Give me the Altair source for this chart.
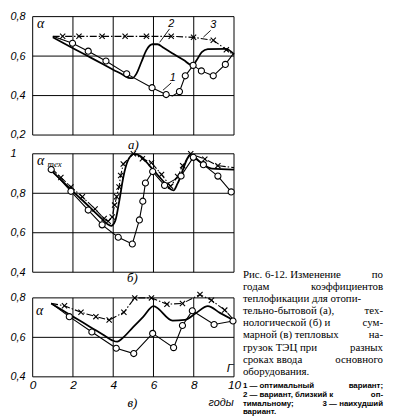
import altair as alt
import pandas as pd

# ---------------- panel а) ----------------
A1_YEAR = [1.0, 1.98, 2.76, 3.64, 4.67, 5.93, 6.63, 6.95, 7.29, 7.58, 7.97, 8.38, 8.97, 9.57, 9.95]
A1_VAL = [0.70, 0.665, 0.625, 0.575, 0.51, 0.44, 0.405, 0.398, 0.42, 0.50, 0.553, 0.525, 0.50, 0.558, 0.61]
A1_MARK = [0, 1, 1, 1, 1, 1, 1, 0, 1, 1, 1, 1, 1, 1, 0]
A2_YEAR = [1.0, 2.0, 3.0, 4.0, 4.5, 4.75, 4.95, 5.15, 5.4, 5.65, 5.95, 6.2, 6.5, 7.0, 7.5, 7.94,
           8.15, 8.4, 8.7, 9.6, 10.0]
A2_VAL = [0.695, 0.640, 0.586, 0.531, 0.504, 0.49, 0.488, 0.51, 0.57, 0.63, 0.66, 0.66, 0.642, 0.611,
          0.580, 0.553, 0.58, 0.62, 0.635, 0.637, 0.61]
A3_YEAR = [1.0, 1.49, 2.3, 3.45, 4.59, 5.65, 6.88, 7.99, 8.97, 9.62, 10.0]
A3_VAL = [0.70, 0.70, 0.70, 0.70, 0.70, 0.70, 0.70, 0.695, 0.68, 0.632, 0.605]
A3_MARK = [0, 1, 1, 1, 1, 1, 1, 1, 1, 1, 0]

A_NUM_TEXT = ["1", "2", "3"]
A_NUM_YEAR = [6.96, 6.88, 8.97]
A_NUM_VAL = [0.488, 0.763, 0.755]
A_LEAD_YEAR = [6.88, 6.80, 8.84]
A_LEAD_VAL = [0.464, 0.738, 0.730]
A_LEAD_YEAR2 = [6.47, 6.31, 8.48]
A_LEAD_VAL2 = [0.427, 0.670, 0.696]

# ---------------- panel б) ----------------
B1_YEAR = [0.92, 1.9, 2.76, 3.45, 4.25, 4.95, 5.3, 5.47, 5.6, 5.96, 6.55, 7.37, 7.98, 8.48, 9.2, 9.86]
B1_VAL = [0.92, 0.81, 0.715, 0.64, 0.577, 0.543, 0.665, 0.76, 0.852, 0.91, 0.84, 0.888, 0.982, 0.945, 0.887, 0.807]
B1_MARK = [1, 1, 1, 1, 1, 1, 1, 1, 1, 1, 1, 1, 1, 1, 1, 1]
B2_YEAR = [0.92, 1.5, 2.0, 2.5, 3.0, 3.4, 3.7, 3.9, 4.1, 4.3, 4.5, 4.75, 5.05, 5.4, 5.8, 6.2, 6.6,
           6.85, 7.0, 7.2, 7.85, 8.3, 8.9, 10.0]
B2_VAL = [0.915, 0.859, 0.810, 0.762, 0.713, 0.674, 0.645, 0.635, 0.66, 0.76, 0.88, 0.97, 1.0, 0.985,
          0.940, 0.894, 0.848, 0.82, 0.815, 0.85, 0.995, 0.96, 0.925, 0.92]
B3_YEAR = [0.95, 1.4, 1.9, 2.47, 3.1, 3.55, 3.75, 3.95, 4.07, 4.17, 4.29, 4.37, 4.5, 5.0,
           5.45, 5.9, 6.4, 6.85, 7.2, 7.45, 7.85, 8.55, 9.2, 10.0]
B3_VAL = [0.925, 0.88, 0.832, 0.782, 0.72, 0.672, 0.658, 0.68, 0.74, 0.782, 0.832, 0.89, 0.948, 1.0,
          0.975, 0.955, 0.895, 0.835, 0.885, 0.94, 1.0, 0.973, 0.94, 0.93]
B3_MARK = [0, 1, 1, 1, 1, 1, 1, 1, 1, 1, 1, 1, 1, 1, 1, 1, 1, 1, 1, 1, 1, 1, 1, 0]

# ---------------- panel в) ----------------
C1_YEAR = [0.92, 1.82, 2.94, 4.15, 5.02, 5.96, 7.0, 7.44, 7.93, 9.01, 9.95]
C1_VAL = [0.772, 0.705, 0.627, 0.545, 0.518, 0.62, 0.548, 0.66, 0.735, 0.665, 0.683]
C1_MARK = [0, 1, 1, 1, 1, 1, 1, 1, 1, 1, 1]
C2_YEAR = [0.92, 1.5, 2.0, 2.5, 3.0, 3.5, 3.95, 4.2, 4.45, 5.0, 5.5, 6.0, 6.95, 7.55, 8.1, 8.7, 9.3, 10.0]
C2_VAL = [0.772, 0.736, 0.705, 0.675, 0.644, 0.613, 0.585, 0.578, 0.595, 0.653, 0.705, 0.758, 0.685,
          0.688, 0.722, 0.758, 0.724, 0.685]
C3_YEAR = [0.92, 1.58, 2.4, 3.14, 3.8, 4.53, 5.07, 5.9, 6.67, 7.44, 8.31, 8.88, 9.54, 10.0]
C3_VAL = [0.772, 0.76, 0.727, 0.705, 0.688, 0.727, 0.8, 0.8, 0.768, 0.772, 0.817, 0.788, 0.738, 0.688]
C3_MARK = [0, 1, 1, 1, 1, 1, 1, 1, 1, 1, 1, 1, 1, 0]

X_TICKS = [0, 2, 4, 6, 8, 10]
A_TICKS = [0.2, 0.4, 0.6, 0.8]
B_TICKS = [0.4, 0.6, 0.8, 1.0]
C_TICKS = [0.4, 0.6, 0.8]

CAPTION_MAIN = [
    ("Рис. 6-12. Изменение", "по"),
    ("годам", "коэффициентов"),
    ("теплофикации для отопи-", ""),
    ("тельно-бытовой (а),", "тех-"),
    ("нологической (б) и", "сум-"),
    ("марной (в) тепловых", "на-"),
    ("грузок ТЭЦ при", "разных"),
    ("сроках ввода", "основного"),
    ("оборудования.", ""),
]
CAPTION_NOTE = [
    ("1 — оптимальный", "вариант;"),
    ("2 — вариант, близкий к", "оп-"),
    ("тимальному;", "3 — наихудший"),
    ("вариант.", ""),
]

XSHAPE = "M-1,-1L1,1M-1,1L1,-1"
COMMA = "replace(format(datum.value, '.1f'), '.', ',')"
C_OFF = 7  # extra room above panel в) frame


def frame(xs, ys, ms=None):
    d = {"year": xs, "val": ys}
    if ms is not None:
        d["m"] = ms
    return pd.DataFrame(d)


def txt(s, x, y, size=12, font="Liberation Serif", style="italic", weight="normal", align="center"):
    return alt.Chart(pd.DataFrame({"t": [s]})).mark_text(
        font=font, fontSize=size, fontStyle=style, fontWeight=weight, align=align,
        baseline="middle", color="black"
    ).encode(x=alt.value(x), y=alt.value(y), text="t:N")


def encs(ydom, yvals, lab_expr, xlabels, yrange):
    xenc = alt.X("year:Q", scale=alt.Scale(domain=[0, 10], nice=False, zero=False),
                 axis=alt.Axis(values=X_TICKS, labels=xlabels, ticks=False, domain=False, grid=False,
                               title=None, labelFont="Liberation Sans", labelFontStyle="italic",
                               labelFontSize=12, labelColor="black", labelPadding=3, labelFlush=False))
    if yrange is None:
        ysc = alt.Scale(domain=ydom, nice=False, zero=False)
    else:
        ysc = alt.Scale(domain=ydom, nice=False, zero=False, range=yrange)
    yenc = alt.Y("val:Q", scale=ysc,
                 axis=alt.Axis(values=yvals, labelExpr=lab_expr, ticks=False, domain=False, grid=False,
                               title=None, labelFont="Liberation Sans", labelFontStyle="italic",
                               labelFontSize=11, labelColor="black", labelAlign="left", labelPadding=23))
    return xenc, yenc


def panel(s1, s2, s3, ydom, yvals, h, lab_expr, xlabels, extras, yrange=None):
    xenc, yenc = encs(ydom, yvals, lab_expr, xlabels, yrange)
    vgrid = pd.DataFrame({"year": X_TICKS, "val": [ydom[0]] * len(X_TICKS), "val2": [ydom[1]] * len(X_TICKS)})
    hgrid = pd.DataFrame({"val": yvals, "year": [0] * len(yvals), "year2": [10] * len(yvals)})
    g1 = alt.Chart(vgrid).mark_rule(color="black", strokeWidth=1).encode(x=xenc, y=yenc, y2="val2:Q")
    g2 = alt.Chart(hgrid).mark_rule(color="black", strokeWidth=1).encode(x=xenc, x2="year2:Q", y=yenc)
    l3 = alt.Chart(s3).mark_line(color="black", strokeWidth=1.1, strokeDash=[7, 2, 1.5, 2]).encode(x=xenc, y=yenc)
    l2 = alt.Chart(s2).mark_line(color="black", strokeWidth=1.8, interpolate="monotone").encode(x=xenc, y=yenc)
    l1 = alt.Chart(s1).mark_line(color="black", strokeWidth=1.1).encode(x=xenc, y=yenc)
    p3 = alt.Chart(s3).transform_filter("datum.m == 1").mark_point(
        shape=XSHAPE, filled=False, color="black", size=28, strokeWidth=1.1, opacity=1).encode(x=xenc, y=yenc)
    p1 = alt.Chart(s1).transform_filter("datum.m == 1").mark_point(
        shape="circle", filled=True, fill="white", stroke="black", strokeWidth=1.1, size=38, opacity=1
    ).encode(x=xenc, y=yenc)
    return alt.layer(g1, g2, l3, l2, l1, p3, p1, *extras(xenc, yenc)).properties(width=204, height=h)


def extras_a(xenc, yenc):
    lead = pd.DataFrame({"year": A_LEAD_YEAR, "val": A_LEAD_VAL, "year2": A_LEAD_YEAR2, "val2": A_LEAD_VAL2})
    nums = pd.DataFrame({"year": A_NUM_YEAR, "val": A_NUM_VAL, "t": A_NUM_TEXT})
    return [
        alt.Chart(lead).mark_rule(color="black", strokeWidth=0.9).encode(x=xenc, y=yenc, x2="year2:Q", y2="val2:Q"),
        alt.Chart(nums).mark_text(font="Liberation Sans", fontStyle="italic", fontSize=11, color="black",
                                  baseline="middle").encode(x=xenc, y=yenc, text="t:N"),
        txt("α", 8, 8, size=14),
        txt("а)", 102, 130, size=13),
    ]


def extras_b(xenc, yenc):
    return [
        txt("α", 8, 7, size=14),
        txt("тех", 15, 10, size=9, align="left"),
        txt("б)", 101, 126, size=13),
    ]


def extras_c(xenc, yenc):
    out = [
        txt("α", 7, 13 + C_OFF, size=14),
        txt("Г", 200, 71 + C_OFF, size=12, font="Liberation Sans"),
        txt("в)", 101, 114, size=13),
        txt("годы", 191, 114, size=11, font="Liberation Sans"),
    ]
    main_y = [-16.5, -4.2, 8.2, 20.5, 32.8, 45.1, 57.5, 69.8, 82.1]
    for (lt, rt), y in zip(CAPTION_MAIN, main_y):
        out.append(txt(lt, 213, y, size=11, style="normal", align="left"))
        if rt:
            out.append(txt(rt, 355, y, size=11, style="normal", align="right"))
    note_y = [96.8, 105.6, 114.3, 123.0]
    for (lt, rt), y in zip(CAPTION_NOTE, note_y):
        out.append(txt(lt, 213, y, size=8, font="Liberation Sans", style="normal", weight="bold", align="left"))
        if rt:
            out.append(txt(rt, 355, y, size=8, font="Liberation Sans", style="normal", weight="bold", align="right"))
    return out


pa = panel(frame(A1_YEAR, A1_VAL, A1_MARK), frame(A2_YEAR, A2_VAL), frame(A3_YEAR, A3_VAL, A3_MARK),
           [0.2, 0.8], A_TICKS, 120, COMMA, False, extras_a)
pb = panel(frame(B1_YEAR, B1_VAL, B1_MARK), frame(B2_YEAR, B2_VAL), frame(B3_YEAR, B3_VAL, B3_MARK),
           [0.4, 1.0], B_TICKS, 120, "datum.value >= 1 ? '1' : " + COMMA, False, extras_b)
pc = panel(frame(C1_YEAR, C1_VAL, C1_MARK), frame(C2_YEAR, C2_VAL), frame(C3_YEAR, C3_VAL, C3_MARK),
           [0.4, 0.8], C_TICKS, 80 + C_OFF, COMMA, True, extras_c, yrange=[80 + C_OFF, C_OFF])

chart = alt.vconcat(pa, pb, pc, spacing=19, bounds="flush").properties(
    padding={"left": 2, "top": 0, "right": 2, "bottom": 0},
    background="white",
).configure_view(strokeOpacity=0)

chart.save("out.html", embed_options={"renderer": "svg", "actions": False})
